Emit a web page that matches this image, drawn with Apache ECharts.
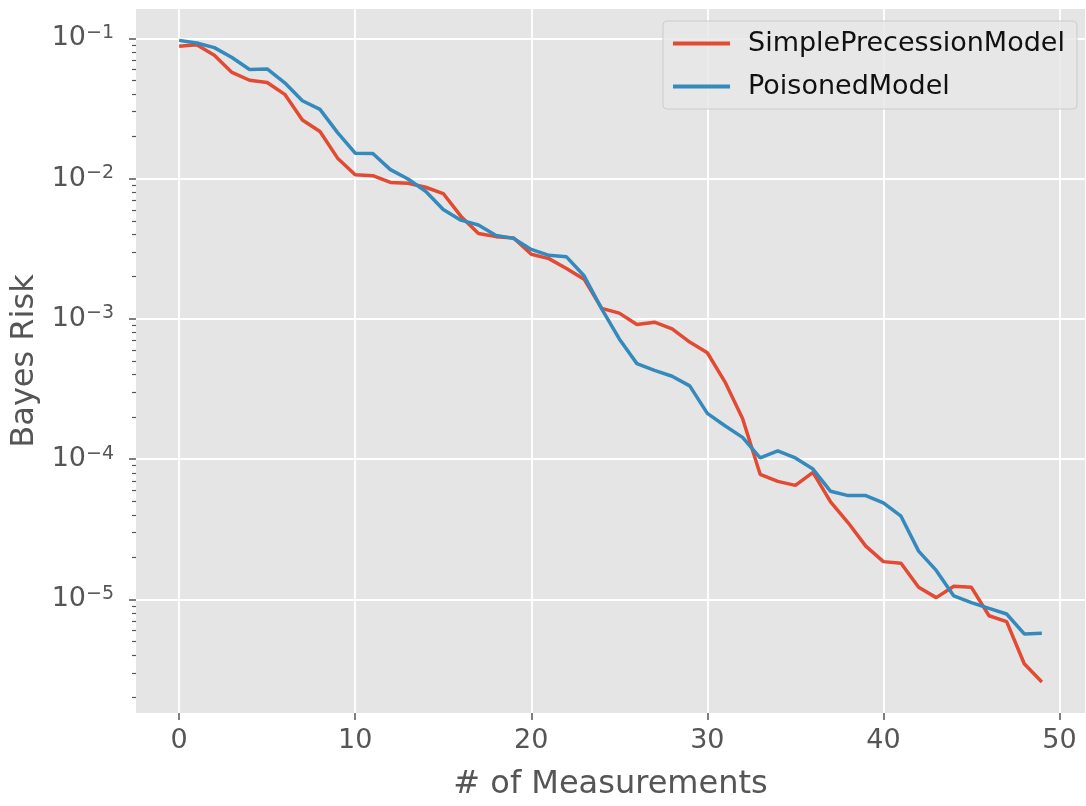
<!DOCTYPE html>
<html>
<head>
<meta charset="utf-8">
<title>Bayes Risk</title>
<script src="https://cdn.jsdelivr.net/npm/echarts@6/dist/echarts.min.js"></script>
<style>
  html, body { margin: 0; padding: 0; background: #fff; }
  #chart { width: 1086px; height: 806px; }
</style>
</head>
<body>
<div id="chart"></div>
<script>
// measurement index 0..49
var measurements = [];
for (var k = 0; k < 50; k++) measurements.push(k);

var seriesNames = ["SimplePrecessionModel", "PoisonedModel"];

// values
var simplePrecession = [
  0.088, 0.090, 0.0758, 0.0572, 0.0503, 0.0485, 0.0399, 0.0262, 0.0217, 0.0140,
  0.01067, 0.0105, 0.0094, 0.00927, 0.00868, 0.00783, 0.0054, 0.00406, 0.00386, 0.00378,
  0.00289, 0.00269, 0.00229, 0.00192, 0.00119, 0.0011, 0.000912, 0.000948, 0.00085, 0.000684,
  0.000574, 0.000356, 0.000195, 7.8e-5, 6.95e-5, 6.5e-5, 8.05e-5, 4.96e-5, 3.52e-5, 2.4e-5,
  1.86e-5, 1.81e-5, 1.22e-5, 1.03e-5, 1.24e-5, 1.22e-5, 7.65e-6, 6.95e-6, 3.48e-6, 2.58e-6
];
var poisoned = [
  0.0968, 0.0927, 0.0859, 0.0730, 0.0600, 0.0605, 0.0482, 0.0359, 0.0312, 0.0213,
  0.0152, 0.0151, 0.0116, 0.00995, 0.00813, 0.00603, 0.00506, 0.00467, 0.00394, 0.00375,
  0.00313, 0.00284, 0.00277, 0.00203, 0.00118, 0.00072, 0.00048, 0.00043, 0.00039, 0.000333,
  0.000212, 0.000173, 0.000143, 0.000102, 0.0001145, 0.000102, 8.5e-5, 5.9e-5, 5.5e-5, 5.5e-5,
  4.88e-5, 3.92e-5, 2.21e-5, 1.61e-5, 1.06e-5, 9.5e-6, 8.64e-6, 7.87e-6, 5.68e-6, 5.74e-6
];

var xTicks = [0, 10, 20, 30, 40, 50];
var yMajorExp = [-5, -4, -3, -2, -1];
var yMinorTicks = [];
for (var e = -6; e <= -1; e++) {
  for (var m = 2; m <= 9; m++) yMinorTicks.push(Math.log10(m) + e);
}

var xMin = -2.45, xMax = 51.45;
var yMin = 1.55e-6, yMax = 0.162;

var textColor = "#555555";
var fontFamily = "DejaVu Sans";
var colors = ["#E24A33", "#348ABD"];

function toPairs(vals) {
  return measurements.map(function (x, i) { return [x, vals[i]]; });
}

var chart = echarts.init(document.getElementById("chart"), null, { renderer: "canvas" });

var option = {
  animation: false,
  backgroundColor: "#ffffff",
  textStyle: { fontFamily: fontFamily },
  grid: { left: 136, top: 9, right: 1, bottom: 90, show: true, backgroundColor: "#E5E5E5", borderWidth: 0 },
  legend: {
    data: seriesNames,
    orient: "vertical",
    left: 663,
    top: 21,
    icon: "rect",
    itemWidth: 57,
    itemHeight: 4,
    itemGap: 16,
    padding: [9, 12, 9, 10],
    backgroundColor: "rgba(232,232,232,0.85)",
    borderColor: "#cccccc",
    borderWidth: 1,
    borderRadius: 4,
    textStyle: { fontSize: 27, color: "#111111", fontFamily: fontFamily, padding: [0, 0, 0, 13] }
  },
  xAxis: {
    type: "value",
    min: xMin,
    max: xMax,
    name: "# of Measurements",
    nameLocation: "middle",
    nameGap: 56,
    nameTextStyle: { fontSize: 32, color: textColor, fontFamily: fontFamily },
    axisLine: { show: false },
    axisTick: { show: true, customValues: xTicks, length: 7, lineStyle: { color: textColor, width: 1.5 } },
    axisLabel: { customValues: xTicks, fontSize: 27, color: textColor, margin: 14, fontFamily: fontFamily },
    splitLine: { show: true, lineStyle: { color: "#ffffff", width: 1.8 } }
  },
  yAxis: [
    {
      // data axis, log scale
      type: "log",
      logBase: 10,
      min: yMin,
      max: yMax,
      axisLine: { show: false },
      axisTick: { show: false },
      axisLabel: { show: false },
      splitLine: { show: false }
    },
    {
      // major ticks, labels and grid (exponent space)
      type: "value",
      min: Math.log10(yMin),
      max: Math.log10(yMax),
      position: "left",
      name: "Bayes Risk",
      nameLocation: "middle",
      nameGap: 84,
      nameRotate: 90,
      nameTextStyle: { fontSize: 32, color: textColor, fontFamily: fontFamily },
      axisLine: { show: false },
      axisTick: { show: true, customValues: yMajorExp, length: 7, lineStyle: { color: textColor, width: 1.5 } },
      axisLabel: {
        customValues: yMajorExp,
        margin: 22,
        color: textColor,
        formatter: function (v) {
          return "{b|10}{s|\u2212" + Math.round(-v) + "}";
        },
        rich: {
          b: { fontSize: 27, color: textColor, fontFamily: fontFamily, lineHeight: 30 },
          s: { fontSize: 19, color: textColor, fontFamily: fontFamily, verticalAlign: "top", lineHeight: 30 }
        }
      },
      splitLine: { show: true, lineStyle: { color: "#ffffff", width: 1.8 } }
    },
    {
      // minor ticks
      type: "value",
      min: Math.log10(yMin),
      max: Math.log10(yMax),
      position: "left",
      axisLine: { show: false },
      axisTick: { show: true, customValues: yMinorTicks, length: 4, lineStyle: { color: textColor, width: 1.2 } },
      axisLabel: { show: false },
      splitLine: { show: false }
    }
  ],
  series: [
    {
      name: seriesNames[0],
      type: "line",
      yAxisIndex: 0,
      data: toPairs(simplePrecession),
      showSymbol: false,
      symbol: "none",
      lineStyle: { color: colors[0], width: 3.5 },
      itemStyle: { color: colors[0] },
      z: 3
    },
    {
      name: seriesNames[1],
      type: "line",
      yAxisIndex: 0,
      data: toPairs(poisoned),
      showSymbol: false,
      symbol: "none",
      lineStyle: { color: colors[1], width: 3.5 },
      itemStyle: { color: colors[1] },
      z: 4
    }
  ]
};

chart.setOption(option);
</script>
</body>
</html>
